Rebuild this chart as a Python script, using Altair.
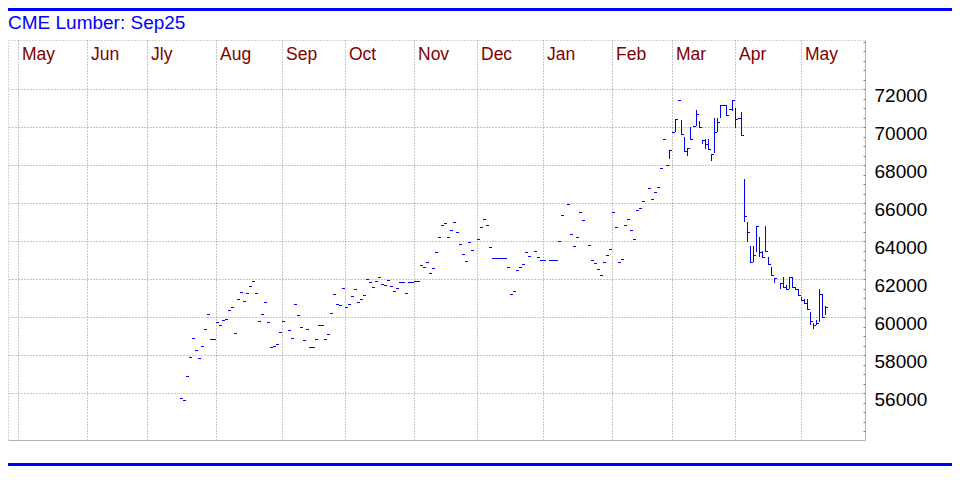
import altair as alt
import pandas as pd

# ---- data (bar index: one slot per trading-day bar, left to right) ----
closes = [
    55753, 55632, 56895, 57895, 58895, 58263, 57842, 58474, 59368, 60174,   # 0-9
    58842, 58842, 59737, 59579, 59842, 59895, 60368, 60526, 59158, 60947,   # 10-19
    61316, 60842, 61263, 61632, 61895, 61263, 59790, 60158, 60789, 59737,   # 20-29
    58421, 58474, 58579, 59211, 59790, None, 59316, 58895, 60700, 60105,    # 30-39
    59474, 58789, 59368, 58421, 58421, 58842, 59579, 59579, 58842, 59105,   # 40-49
    60210, 61210, 60684, 60632, 61526, 60526, 60684, 61105, 61474, 60789,   # 50-59
    60947, 61158, 62000, 61842, 61579, 61895, 62105, 61737, 61684, 61947,   # 60-69
    61632, 61368, 61526, 61842, 61842, 61263, 61842, 61842, 61895, 61895,   # 70-79
    62737, 62632, 62895, 62316, 62579, 63421, 64211, 64842, 64947, 64211,   # 80-89
    64579, 65000, 64474, 63842, 63316, 62947, 63947, 63526, None, 64105,    # 90-99
    64737, 65158, 64842, 63684, 63105, 63105, 63105, 63105, 63105, 62632,   # 100-109
    61210, 61368, 62474, 62632, 62789, 63421, 63211, None, 63474, 63158,    # 110-119
    63000, 63000, None, 63000, 63000, 63000, 64000, 65368, None, 65947,     # 120-129
    64368, 63737, 64211, 65526, 65105, None, 63790, 63000, 62842, 62526,    # 130-139
    62211, 62895, 63263, 63579, 65526, 64737, 62895, 63053, 64842, 65158,   # 140-149
    64579, 64105, 65632, 65737, 66105, None, 66790, 66211, 66579, 66842,    # 150-159
    67842, 69368, 68000, 68789, 69737, 70421, 71421, 69632, 68737, 68895,   # 160-169
    69368, 70053, 70684, 70000, 69316, 69105, 68842, 68579, 69737, 70263,   # 170-179
    71174, 71174, 70632, 70947, 71421, 70421, 70474, 69595, 65347, 64505,   # 180-189
    62926, 63263, 64821, 63453, 63158, 63490, 62789, 62226, 62084, None,    # 190-199
    61821, 61611, 61474, 62105, 61579, 61474, 61158, 60895, 60737, 60421,   # 200-209
    59821, 59579, 59684, 61226, 60032, 60526,                               # 210-215
]

RANGE_START = 163  # highs / lows below start at this bar
highs = [
    68789, None, 70421, None, 70384, 69474, 68895, 70000, None, 70895,
    70316, 69316, 69368, 69368, 68579, 70474, 70474, 71174, None, 71174,
    None, 71421, 71000, None, 70789, 67263, 65032, 63753, 63753, 64821,
    64226, 63490, 64821, 63158, 62648, 62084, None, 61821, 62105, 61684,
    62105, 62105, 61579, 61474, 61084, 60963, 60963, 60279, 59684, 59858,
    61474, 61226, 60595,
]
lows = [
    68332, None, 69737, None, 69632, 68737, 68474, 69368, None, 70053,
    70000, 69105, 68842, 68842, 68211, 68632, 69737, 70474, None, 70632,
    None, 70842, 69979, None, 69595, 65032, 63979, 62926, 62926, 63453,
    63158, 63158, 63490, 62789, 62226, 61789, None, 61474, 61611, 61474,
    61474, 61579, 61474, 61158, 60895, 60737, 60421, 59579, 59400, 59579,
    59768, 60032, 60121,
]

month_names = ["May", "Jun", "Jly", "Aug", "Sep", "Oct", "Nov", "Dec",
               "Jan", "Feb", "Mar", "Apr", "May"]
month_start_bar = [-54, -31, -11, 12, 34, 55, 78, 99, 121, 144, 164, 185, 207]

y_major = list(range(56000, 72001, 2000))
y_minor = list(range(54000, 74501, 500))

title_text = "CME Lumber: Sep25"

# ---- build table ----
rows = []
for i, c in enumerate(closes):
    if c is None:
        continue
    h = lo = c
    j = i - RANGE_START
    if 0 <= j < len(highs) and highs[j] is not None:
        h, lo = highs[j], lows[j]
    rows.append({"b": i, "close": c, "high": h, "low": lo})
df = pd.DataFrame(rows)

BLUE = "#0000ff"
GRID = "#8c8c8c"
EDGE = "#b4b4b4"
FONT = "Liberation Sans"

xs = alt.Scale(domain=[-172 / 3, 685 / 3], nice=False, zero=False, round=True)
ys = alt.Scale(domain=[53542, 74595], nice=False, zero=False, round=True)

label_expr = (
    "[" + ",".join("'%s'" % m for m in month_names) + "][indexof(["
    + ",".join(str(v) for v in month_start_bar) + "], datum.value)]"
)

top_axis = alt.Axis(
    orient="top", values=month_start_bar, labelExpr=label_expr, title=None,
    ticks=False, tickSize=0, domain=False, grid=True, gridColor=GRID,
    gridDash=[1, 2], labelAlign="left", labelBaseline="top", labelPadding=-5,
    labelOffset=3.5, labelFlush=False, labelOverlap=False, labelBound=False,
    labelColor="#800000", labelFont=FONT, labelFontSize=17.5,
)
right_axis = alt.Axis(
    orient="right", values=y_major, format="d", title=None, ticks=False,
    tickSize=0, domain=True, domainColor=EDGE, grid=True, gridColor=GRID,
    gridDash=[1, 2], labelAlign="left", labelBaseline="top", labelPadding=9,
    labelOffset=-2.5, labelColor="black", labelFont=FONT, labelFontSize=19,
    labelOverlap=False, labelFlush=False,
)
bottom_axis = alt.Axis(
    orient="bottom", labels=False, ticks=False, grid=False, domain=True,
    domainColor=EDGE, title=None,
)
minor_axis = alt.Axis(
    orient="left", offset=-857, values=y_minor, labels=False, ticks=True,
    tickSize=2, tickColor="#808080", domain=False, grid=False, title=None,
)

closes_layer = alt.Chart(df).transform_calculate(
    b2="datum.b + 1"
).mark_rule(color=BLUE, strokeWidth=1, yOffset=0.5, strokeCap="butt").encode(
    x=alt.X("b:Q", scale=xs, axis=top_axis),
    x2="b2:Q",
    y=alt.Y("close:Q", scale=ys, axis=right_axis),
)

range_layer = alt.Chart(df).transform_filter(
    "datum.high > datum.low"
).mark_rule(color=BLUE, strokeWidth=1, xOffset=0.5, strokeCap="butt").encode(
    x=alt.X("b:Q", scale=xs, axis=bottom_axis),
    y=alt.Y("low:Q", scale=ys, axis=minor_axis),
    y2="high:Q",
)

one = pd.DataFrame({"k": [0]})
top_band = alt.Chart(one).mark_rule(color=BLUE, strokeWidth=3).encode(
    x=alt.value(0), x2=alt.value(944), y=alt.value(-30.5)
)
bottom_band = alt.Chart(one).mark_rule(color=BLUE, strokeWidth=3).encode(
    x=alt.value(0), x2=alt.value(944), y=alt.value(424.5)
)

chart = alt.layer(closes_layer, range_layer, top_band, bottom_band).resolve_axis(
    x="independent", y="independent"
).properties(
    width=857,
    height=400,
    title=alt.TitleParams(
        text=title_text, anchor="start", frame="group", color=BLUE,
        font=FONT, fontSize=19, fontWeight="normal", baseline="alphabetic",
        offset=-40,
    ),
    autosize=alt.AutoSizeParams(type="none"),
    padding={"left": 0, "top": 32, "right": 87, "bottom": 26},
).configure_view(
    stroke="#a8a8a8", strokeDash=[1, 2], strokeWidth=1
)

chart.save("out.html", embed_options={"renderer": "svg", "actions": False})
